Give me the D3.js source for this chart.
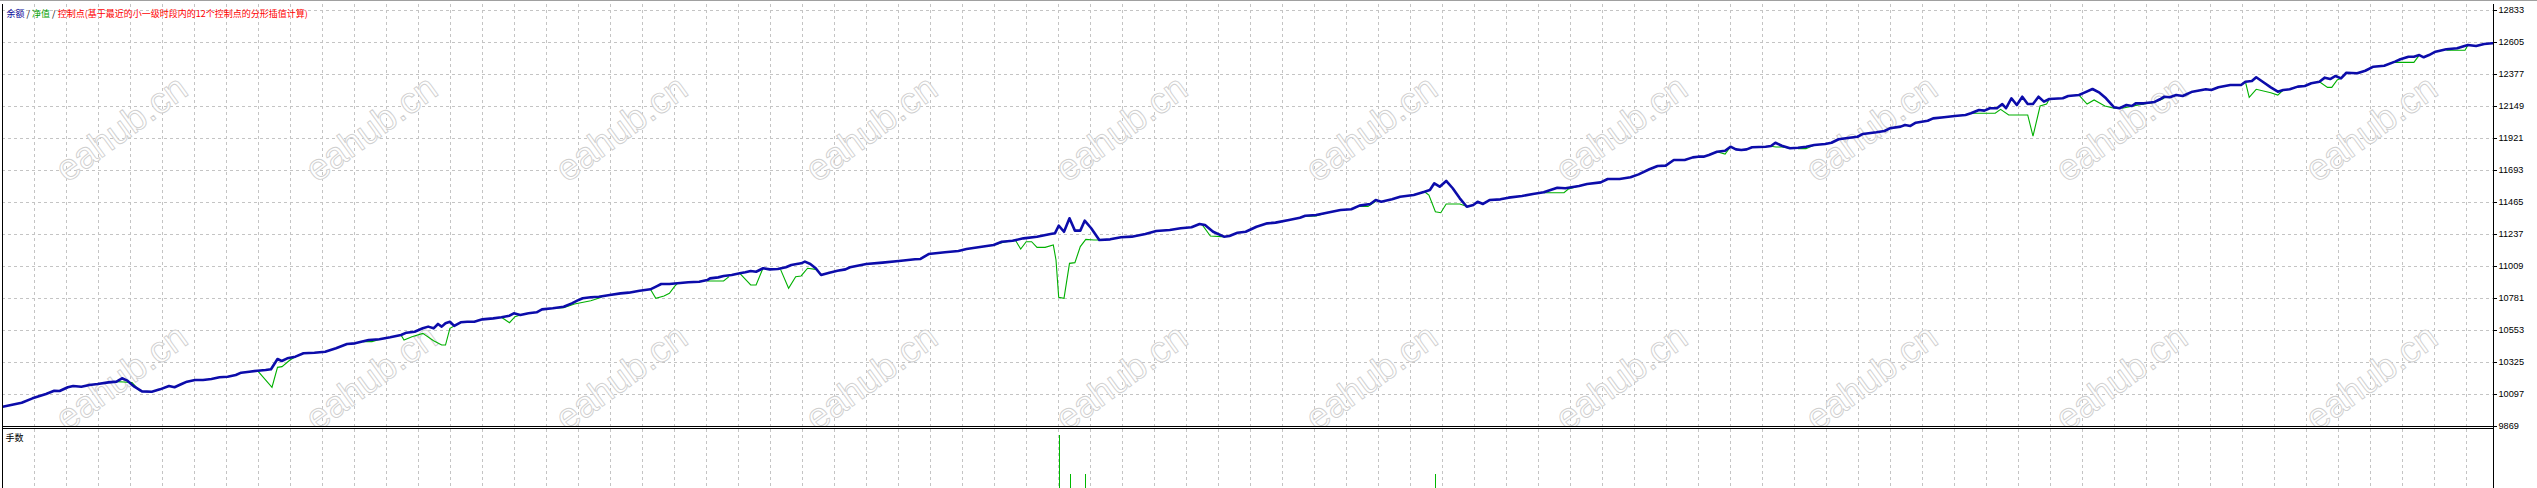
<!DOCTYPE html>
<html><head><meta charset="utf-8">
<script src="https://cdn.jsdelivr.net/npm/d3@7"></script>
<style>html,body{margin:0;padding:0;background:#fff;overflow:hidden}</style>
</head><body><svg id="chart" width="2537" height="488"></svg>
<script>
// ---------------- data ----------------
const legendParts = [
  {text:"余额", color:"#0a0a9a"},
  {text:" / ", color:"#000000"},
  {text:"净值", color:"#00a000"},
  {text:" / ", color:"#000000"},
  {text:"控制点(基于最近的小一级时段内的12个控制点的分形插值计算)", color:"#ff0000"}
];
const lowerLabel = "手数";
const watermarkText = "eahub.cn";
const yTicks = [9869,10097,10325,10553,10781,11009,11237,11465,11693,11921,12149,12377,12605,12833];

// balance: [trade index, value]
const balance = [[2.7,10006],[21.7,10035],[32.5,10066],[46,10097],[54.2,10120],[59.6,10118],[67.8,10145],[73.2,10154],[81.3,10149],[89.4,10161],[97.6,10168],[108.4,10180],[116.5,10185],[122,10209],[127.4,10192],[134.4,10149],[142,10116],[151.8,10113],[160,10130],[169,10154],[174.5,10145],[181.6,10168],[187,10185],[195,10197],[203,10197],[211.4,10204],[219.5,10216],[227.6,10220],[235.8,10232],[241.2,10249],[249.3,10256],[257.5,10263],[265.6,10268],[271,10273],[273.7,10304],[277.5,10346],[281.8,10332],[287.3,10351],[295.4,10363],[303.5,10387],[314.4,10391],[325.2,10398],[336,10423],[347,10453],[355,10458],[368.6,10482],[379.4,10487],[390.2,10501],[401,10517],[406.5,10534],[414.6,10541],[422.8,10565],[428.2,10577],[433.6,10565],[438,10596],[441.7,10577],[445.5,10601],[449.9,10612],[454.2,10582],[460.7,10608],[467.2,10612],[474.3,10612],[482.4,10629],[493.2,10636],[501.4,10644],[509.5,10655],[513.8,10672],[520.3,10660],[528.5,10672],[536.6,10679],[542,10700],[552.8,10708],[563.7,10719],[571.8,10743],[577.2,10762],[582.7,10779],[590.8,10786],[598.9,10790],[609.8,10802],[620.6,10814],[628.7,10819],[639.6,10833],[650.4,10843],[657,10866],[661.2,10881],[669.4,10881],[677.5,10886],[688.3,10893],[699.2,10897],[707.3,10909],[710,10921],[718.2,10928],[723.6,10938],[731.7,10945],[739.8,10957],[745.3,10964],[750.7,10973],[756.1,10968],[763.1,10993],[769.6,10985],[777.8,10988],[785.9,11000],[791.3,11016],[796.7,11023],[801.1,11028],[804.9,11040],[810.3,11023],[815.7,10993],[821.1,10945],[829.3,10961],[837.4,10975],[845.5,10985],[850,11000],[866.3,11023],[882.5,11033],[898.8,11045],[915,11057],[920.5,11059],[928.6,11094],[944.9,11107],[958.4,11116],[966.5,11130],[980,11144],[993.6,11159],[1001.8,11182],[1012.6,11189],[1023.4,11206],[1037,11218],[1050.5,11237],[1054.9,11242],[1058.7,11296],[1064,11253],[1069.5,11349],[1074.9,11261],[1080.3,11261],[1084.7,11332],[1091.2,11278],[1099.3,11194],[1110.2,11199],[1121,11214],[1131.8,11218],[1145.4,11237],[1156.2,11258],[1169.8,11266],[1180.6,11278],[1191.5,11285],[1199.6,11308],[1205,11301],[1213.1,11253],[1224,11218],[1229.4,11223],[1237.5,11246],[1245.7,11253],[1256.5,11289],[1267.3,11313],[1275.5,11318],[1289,11337],[1299.9,11353],[1305.3,11367],[1316.1,11372],[1327,11389],[1340.5,11408],[1351.3,11413],[1359.5,11439],[1370.3,11451],[1375.7,11479],[1381.2,11467],[1392,11484],[1400.1,11503],[1413.7,11515],[1424.5,11538],[1429.9,11551],[1434.3,11598],[1439.7,11574],[1446.2,11615],[1452.7,11563],[1459.8,11491],[1466.8,11431],[1473.3,11444],[1477.6,11467],[1483,11451],[1489.5,11479],[1500.4,11484],[1508.5,11496],[1522,11508],[1532.9,11522],[1543.7,11534],[1557.3,11567],[1565.4,11563],[1579,11579],[1587.1,11593],[1600.7,11605],[1607.7,11629],[1619.6,11629],[1630.5,11641],[1638.6,11662],[1649.4,11698],[1657.6,11722],[1665.7,11724],[1673.8,11764],[1684.7,11764],[1692.8,11783],[1698.1,11788],[1703.5,11788],[1708.9,11800],[1717,11823],[1725.1,11830],[1730.5,11859],[1735.9,11840],[1741.3,11835],[1746.7,11840],[1752.1,11855],[1765.6,11859],[1771,11864],[1775.4,11887],[1781.8,11866],[1790,11848],[1798,11852],[1806.2,11859],[1814.3,11871],[1825.1,11878],[1831.5,11887],[1838.6,11912],[1849.4,11923],[1857.5,11930],[1862.9,11950],[1876.4,11962],[1884.5,11971],[1889.9,11990],[1900.7,12002],[1905,12014],[1910.4,12007],[1915.8,12030],[1927.7,12044],[1933.1,12061],[1943.9,12069],[1954.7,12078],[1965.5,12085],[1970.9,12097],[1979,12121],[1984.4,12116],[1989.8,12133],[1996.9,12133],[2002.3,12163],[2006,12133],[2011.4,12204],[2016.8,12156],[2022.3,12215],[2027.7,12163],[2033,12163],[2038.5,12215],[2043.9,12180],[2049.3,12199],[2062.8,12204],[2068.2,12220],[2079,12227],[2084.4,12244],[2092.5,12270],[2099.5,12244],[2106,12204],[2114.1,12140],[2119.5,12133],[2126.5,12156],[2131.9,12149],[2135.7,12168],[2143.8,12168],[2154.6,12178],[2160,12197],[2164.3,12215],[2169.7,12211],[2176.2,12227],[2182.7,12220],[2192.4,12251],[2205.9,12268],[2211.3,12263],[2218.4,12282],[2230.3,12299],[2241.1,12299],[2245.4,12322],[2251.9,12327],[2256.2,12354],[2262.7,12322],[2270.8,12282],[2277.8,12251],[2283.2,12263],[2289.7,12268],[2297.8,12287],[2304.8,12292],[2311.3,12311],[2319.4,12322],[2324.8,12351],[2330.2,12341],[2335.6,12363],[2341,12346],[2346.4,12386],[2357.2,12382],[2365.3,12400],[2373.4,12429],[2384.2,12436],[2395,12465],[2400.4,12482],[2408.5,12500],[2413.9,12500],[2419.3,12512],[2423.7,12496],[2429,12512],[2435.5,12536],[2446.3,12553],[2457.1,12560],[2467.9,12584],[2476.1,12577],[2484.2,12591],[2492.3,12596]];

// equity: stretches where it departs from balance
const equityDips = [
 [[116.5,10185],[124,10183],[132,10178],[140,10118]],
 [[257.5,10263],[272,10145],[277.5,10287],[282,10292],[290,10339],[295.4,10363]],
 [[363,10470],[372,10470],[380,10487]],
 [[401,10517],[404,10482],[412,10505],[422.8,10529],[433.6,10477],[441.7,10446],[445.5,10446],[449.9,10565],[458,10596],[460.7,10608]],
 [[501.4,10644],[509.5,10605],[515,10648],[520.3,10660]],
 [[552.8,10708],[563.7,10712],[574.5,10738],[590.8,10762],[601.6,10786]],
 [[650.4,10843],[655.8,10779],[664,10795],[669.4,10814],[674.8,10866],[677.5,10886]],
 [[707.3,10902],[723.6,10902],[729,10933]],
 [[739.8,10957],[750.7,10874],[756.1,10874],[761.5,10968],[763.1,10993]],
 [[780.5,10985],[788.6,10850],[795.7,10933],[801.1,10938],[807.6,10993],[815.7,10985],[821.1,10945]],
 [[993.6,11159],[1001.8,11175],[1015.3,11194],[1020.7,11130],[1026.2,11182],[1031.6,11182],[1037,11142],[1045.1,11142],[1053.3,11159],[1056,11052],[1058.7,10786],[1064,10779],[1069.5,11028],[1074.9,11033],[1080.3,11147],[1085.8,11199],[1093.9,11194],[1099.3,11194]],
 [[1199.6,11308],[1202.3,11301],[1210.4,11223],[1221.3,11218],[1224,11218]],
 [[1305.3,11362],[1316.1,11365],[1327,11389]],
 [[1359.5,11434],[1368,11434],[1375.7,11470]],
 [[1424.5,11538],[1428.9,11515],[1435.4,11396],[1440.8,11389],[1446.2,11451],[1459.8,11451],[1467.9,11431],[1473.3,11444]],
 [[1543.7,11531],[1549,11531],[1564,11531],[1568,11556],[1579,11579]],
 [[1717,11823],[1725.1,11807],[1730.5,11859]],
 [[1771,11862],[1776,11857],[1782,11857],[1790,11848]],
 [[1798,11845],[1806,11845],[1814.3,11871]],
 [[1970.9,12097],[1995.2,12097],[2000.6,12125],[2008.7,12085],[2027.7,12085],[2033,11935],[2040.1,12149],[2046.6,12163],[2049.3,12199]],
 [[2079,12227],[2087.1,12163],[2094.1,12192],[2104.9,12149],[2114.1,12133],[2119.5,12133]],
 [[2122.2,12133],[2138.4,12156],[2154.6,12176],[2164.3,12204]],
 [[2245.4,12322],[2249.2,12211],[2256.2,12268],[2270.8,12244],[2277.8,12227],[2283.2,12263]],
 [[2319.4,12322],[2327.5,12282],[2331.8,12282],[2337.2,12334],[2341,12346]],
 [[2392.3,12460],[2413.9,12460],[2419.3,12512]],
 [[2446.3,12546],[2465,12546],[2468,12584]]
];

// lots (手数) per trade index
const lotIdx = [1058.7, 1069.5, 1085.2, 1435.4];
const lotVal = [0.30, 0.10, 0.10, 0.10];

// ---------------- layout ----------------
const W = 2537, H = 488;
const L = 2, R = 2493, mainTop = 4, mainBot = 426, lowTop = 429;
const gridColor = "#c4c4c4";

const svg = d3.select("#chart");
const x = d3.scaleLinear().domain([0, 2493]).range([0, 2493]);
const y = d3.scaleLinear().domain([9869, 12833]).range([426, 10]);
const yLot = d3.scaleLinear().domain([0, 0.33]).range([493.5, 429]);

svg.append("rect").attr("width", W).attr("height", H).attr("fill", "#fff");

// clip paths
const defs = svg.append("defs");
defs.append("clipPath").attr("id","clipMain").append("rect")
  .attr("x", L).attr("y", mainTop).attr("width", R - L).attr("height", mainBot - mainTop);
defs.append("clipPath").attr("id","clipLow").append("rect")
  .attr("x", L).attr("y", lowTop).attr("width", R - L).attr("height", H - lowTop);

// grid
const grid = svg.append("g").attr("shape-rendering","crispEdges")
  .attr("stroke", gridColor).attr("stroke-dasharray","3,3").attr("stroke-width",1);
const gridXs = d3.range(34.5, 2490, 32);
grid.selectAll("line.vm").data(gridXs).join("line")
  .attr("x1", d => x(d)).attr("x2", d => x(d)).attr("y1", mainTop).attr("y2", mainBot);
grid.selectAll("line.vl").data(gridXs).join("line").attr("class","vl")
  .attr("x1", d => x(d)).attr("x2", d => x(d)).attr("y1", lowTop).attr("y2", H);
grid.selectAll("line.h").data(yTicks.slice(1)).join("line").attr("class","h")
  .attr("x1", L).attr("x2", R).attr("y1", d => Math.round(y(d)) + 0.5).attr("y2", d => Math.round(y(d)) + 0.5);

// watermarks
const wmX = d3.range(121, 2500, 250);
const wmY = [128, 377];
const wm = svg.append("g").attr("clip-path","url(#clipMain)");
wmY.forEach(cy => wmX.forEach(cx => {
  wm.append("text").attr("transform", `translate(${cx},${cy}) rotate(-36)`)
    .attr("text-anchor","middle").attr("dy","0.35em")
    .attr("font-family","'Liberation Sans', Arial, sans-serif").attr("font-size", 37)
    .attr("fill","#ffffff").attr("stroke","#cfcfcf").attr("stroke-width",0.9)
    .text(watermarkText);
}));

// lines
const line = d3.line().x(d => x(d[0])).y(d => y(d[1]));
const lineG = svg.append("g").attr("clip-path","url(#clipMain)");
lineG.selectAll("path.eq").data(equityDips).join("path").attr("class","eq")
  .attr("d", line).attr("fill","none").attr("stroke","#00b000").attr("stroke-width",1.1)
  .attr("stroke-linejoin","miter");
lineG.append("path").datum(balance).attr("d", line)
  .attr("fill","none").attr("stroke","#0c0caa").attr("stroke-width",2.6)
  .attr("stroke-linejoin","round").attr("stroke-linecap","round");

// lots bars
svg.append("g").attr("clip-path","url(#clipLow)").attr("shape-rendering","crispEdges")
  .selectAll("line").data(lotIdx).join("line")
  .attr("x1", (d) => Math.round(x(d)) + 0.5).attr("x2", (d) => Math.round(x(d)) + 0.5)
  .attr("y1", yLot(0)).attr("y2", (d, i) => yLot(lotVal[i]))
  .attr("stroke","#00b800").attr("stroke-width",1);

// frame
const frame = svg.append("g").attr("shape-rendering","crispEdges").attr("stroke","#000").attr("stroke-width",1);
svg.append("line").attr("x1",0).attr("x2",W).attr("y1",0.5).attr("y2",0.5)
  .attr("stroke","#a0a0a0").attr("stroke-width",1.5).attr("shape-rendering","crispEdges");
frame.append("line").attr("x1",L+0.5).attr("x2",L+0.5).attr("y1",mainTop).attr("y2",H);
frame.append("line").attr("x1",R+0.5).attr("x2",R+0.5).attr("y1",mainTop).attr("y2",H);
frame.append("line").attr("x1",L).attr("x2",R+1).attr("y1",mainBot+0.5).attr("y2",mainBot+0.5);
frame.append("line").attr("x1",L).attr("x2",R+1).attr("y1",lowTop-0.5).attr("y2",lowTop-0.5);

// right axis
const axis = d3.axisRight(y).tickValues(yTicks).tickSize(3).tickPadding(2).tickFormat(d3.format("d"));
const ag = svg.append("g").attr("transform", `translate(${R + 0.5},0)`).call(axis);
ag.select(".domain").remove();
ag.selectAll("line").attr("stroke","#000").attr("shape-rendering","crispEdges");
ag.selectAll("text").attr("font-family","'Liberation Sans', Arial, sans-serif")
  .attr("font-size", 9.2).attr("fill","#000");

// legend
const lg = svg.append("text").attr("x", 6.5).attr("y", 17.3)
  .attr("font-family","'Noto Sans CJK SC', sans-serif").attr("font-size", 9)
  .attr("xml:space","preserve");
lg.selectAll("tspan").data(legendParts).join("tspan")
  .attr("fill", d => d.color).text(d => d.text);

// lower panel label
svg.append("text").attr("x", 5.5).attr("y", 441)
  .attr("font-family","'Noto Sans CJK SC', sans-serif").attr("font-size", 9)
  .attr("fill","#000").text(lowerLabel);
</script>
</body></html>
